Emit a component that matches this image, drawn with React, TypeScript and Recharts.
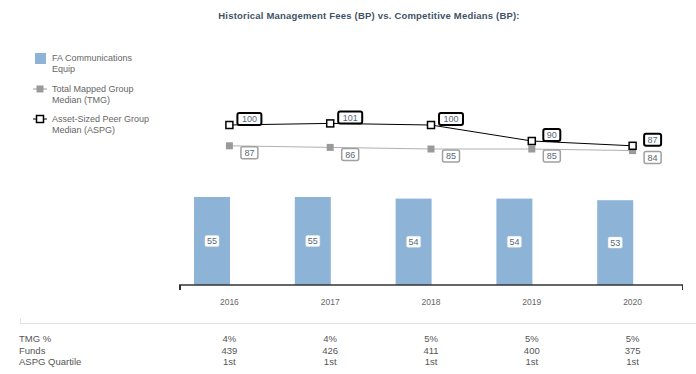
import React from 'react';
import { ComposedChart, Bar, Line, XAxis, YAxis, LabelList } from 'recharts';

const years = ['2016', '2017', '2018', '2019', '2020'];
const faFees = [55, 55, 54, 54, 53];
const tmgMedian = [87, 86, 85, 85, 84];
const aspgMedian = [100, 101, 100, 90, 87];
const tmgPct = ['4%', '4%', '5%', '5%', '5%'];
const funds = [439, 426, 411, 400, 375];
const aspgQuartile = ['1st', '1st', '1st', '1st', '1st'];

const chartData = years.map((year, i) => ({
  year,
  fa: faFees[i],
  tmg: tmgMedian[i],
  aspg: aspgMedian[i],
}));

const W = 696;
const H = 374;
const PLOT_LEFT = 179;
const PLOT_RIGHT = 683;
const AXIS_Y = 285;
const FONT = '"Liberation Sans", Arial, sans-serif';
const LABEL_TEXT = '#56687a';
const BAR_COLOR = '#8db3d6';

// bar sits to the left of the category centre
const BarShape = (props: any) => {
  const { x, y, width, height } = props;
  return <rect x={x - width / 2 + 1} y={y} width={width} height={height} fill={BAR_COLOR} />;
};

const barLabel = (props: any) => {
  const { x, y, width, height, value } = props;
  const cx = x + 1;
  const cy = y + height / 2;
  return (
    <g>
      <rect x={cx - 7} y={cy - 5.5} width={14} height={11} rx={1.5} fill="#fff" stroke="#dde6ee" strokeWidth={0.5} />
      <text x={cx} y={cy + 3.2} textAnchor="middle" fontSize={9} fill={LABEL_TEXT} fontFamily={FONT}>
        {value}
      </text>
    </g>
  );
};

const boxLabel = (stroke: string, strokeWidth: number, dy: number) => (props: any) => {
  const { x, y, value } = props;
  const w = String(value).length > 2 ? 24 : 17;
  const cx = x + 20;
  const cy = y + dy;
  return (
    <g>
      <rect x={cx - w / 2} y={cy - 6} width={w} height={12} rx={2} fill="#fff" stroke={stroke} strokeWidth={strokeWidth} />
      <text x={cx} y={cy + 3.2} textAnchor="middle" fontSize={9} fill={LABEL_TEXT} fontFamily={FONT}>
        {value}
      </text>
    </g>
  );
};

const tmgDot = (props: any) => {
  const { cx, cy, index } = props;
  return <rect key={`tmg-${index}`} x={cx - 3.5} y={cy - 3.5} width={7} height={7} fill="#9a9a9a" />;
};

const aspgDot = (props: any) => {
  const { cx, cy, index } = props;
  return (
    <rect key={`aspg-${index}`} x={cx - 3.5} y={cy - 3.5} width={7} height={7} fill="#fff" stroke="#000" strokeWidth={1.5} />
  );
};

const YearTick = (props: any) => {
  const { x, y, payload } = props;
  return (
    <text x={x} y={y + 12} textAnchor="middle" fontSize={8.5} fill="#666" fontFamily={FONT}>
      {payload.value}
    </text>
  );
};

const legendText: React.CSSProperties = {
  position: 'absolute',
  left: 52,
  fontSize: 9,
  lineHeight: '11px',
  color: '#666',
  fontFamily: FONT,
};

const LineIcon = ({ top, color, open }: { top: number; color: string; open: boolean }) => (
  <svg style={{ position: 'absolute', left: 33, top }} width={14} height={10}>
    <line x1={0} y1={5} x2={14} y2={5} stroke={color} strokeWidth={1} />
    <rect
      x={3.5}
      y={1.5}
      width={7}
      height={7}
      fill={open ? '#fff' : color}
      stroke={open ? color : 'none'}
      strokeWidth={1.5}
    />
  </svg>
);

const App: React.FC = () => {
  const band = (PLOT_RIGHT - PLOT_LEFT) / years.length;
  const colX = (i: number) => PLOT_LEFT + band * (i + 0.5);

  const rows: { label: string; values: (string | number)[]; top: number }[] = [
    { label: 'TMG %', values: tmgPct, top: 333 },
    { label: 'Funds', values: funds, top: 345 },
    { label: 'ASPG Quartile', values: aspgQuartile, top: 356 },
  ];

  return (
    <div style={{ position: 'absolute', left: 0, top: 0, width: W, height: H, background: '#fff', fontFamily: FONT }}>
      <div
        style={{
          position: 'absolute',
          top: 10,
          left: 0,
          width: W,
          paddingLeft: 42,
          boxSizing: 'border-box',
          textAlign: 'center',
          fontSize: 9.5,
          fontWeight: 'bold',
          color: '#3f5366',
          letterSpacing: '0.2px',
        }}
      >
        Historical Management Fees (BP) vs. Competitive Medians (BP):
      </div>

      {/* legend */}
      <div style={{ position: 'absolute', left: 35, top: 53, width: 11, height: 11, background: BAR_COLOR }} />
      <div style={{ ...legendText, top: 53 }}>
        FA Communications
        <br />
        Equip
      </div>
      <LineIcon top={84} color="#9a9a9a" open={false} />
      <div style={{ ...legendText, top: 84 }}>
        Total Mapped Group
        <br />
        Median (TMG)
      </div>
      <LineIcon top={114} color="#000" open={true} />
      <div style={{ ...legendText, top: 114 }}>
        Asset-Sized Peer Group
        <br />
        Median (ASPG)
      </div>

      <div style={{ position: 'absolute', left: 0, top: 0 }}>
        <ComposedChart width={W} height={H} data={chartData} margin={{ top: 109, right: W - PLOT_RIGHT, left: PLOT_LEFT, bottom: H - AXIS_Y - 20 }}>
          <XAxis dataKey="year" height={20} axisLine={{ stroke: '#333', strokeWidth: 1.5 }} tickLine={false} tick={<YearTick />} interval={0} />
          <YAxis hide domain={[0, 110]} />
          <Bar dataKey="fa" barSize={36} shape={<BarShape />} isAnimationActive={false}>
            <LabelList dataKey="fa" content={barLabel} />
          </Bar>
          <Line dataKey="tmg" stroke="#b0b0b0" strokeWidth={1} dot={tmgDot} activeDot={false} isAnimationActive={false}>
            <LabelList dataKey="tmg" content={boxLabel('#a0a0a0', 1.5, 7)} />
          </Line>
          <Line dataKey="aspg" stroke="#000" strokeWidth={1} dot={aspgDot} activeDot={false} isAnimationActive={false}>
            <LabelList dataKey="aspg" content={boxLabel('#000', 2, -6)} />
          </Line>
        </ComposedChart>
      </div>

      {/* axis end ticks */}
      <div style={{ position: 'absolute', left: PLOT_LEFT, top: AXIS_Y, width: 1.5, height: 5, background: '#333' }} />
      <div style={{ position: 'absolute', left: PLOT_RIGHT - 1.5, top: AXIS_Y, width: 1.5, height: 5, background: '#333' }} />

      {/* data table */}
      <div style={{ position: 'absolute', left: 20, top: 323, width: W - 20, height: 1, background: '#e3e3e3' }} />
      <div style={{ position: 'absolute', left: 20, top: 318, width: 1, height: 5, background: '#e3e3e3' }} />
      {rows.map((row) => (
        <React.Fragment key={row.label}>
          <div style={{ position: 'absolute', left: 19, top: row.top, fontSize: 9.5, color: '#555', lineHeight: '12px' }}>
            {row.label}
          </div>
          {row.values.map((v, i) => (
            <div
              key={i}
              style={{
                position: 'absolute',
                left: colX(i) - 30,
                width: 60,
                top: row.top,
                textAlign: 'center',
                fontSize: 9.5,
                color: '#555',
                lineHeight: '12px',
              }}
            >
              {v}
            </div>
          ))}
        </React.Fragment>
      ))}
    </div>
  );
};

export default App;
